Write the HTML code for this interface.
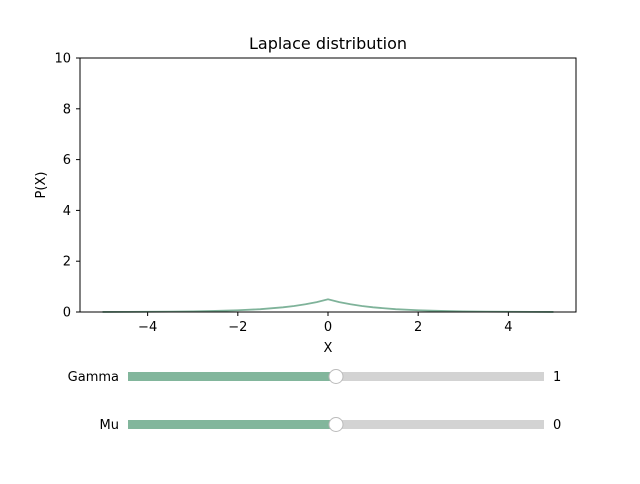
<!DOCTYPE html>
<html><head><meta charset="utf-8"><style>
body{margin:0;background:#fff;font-family:"DejaVu Sans",sans-serif;}
svg text{font-family:"DejaVu Sans",sans-serif;fill:#000;}
</style></head><body>
<svg width="640" height="480">
<rect width="640" height="480" fill="#fff"/>
<text x="328" y="49" font-size="16" text-anchor="middle">Laplace distribution</text>
<g id="axes"></g>
<polyline id="curve" fill="none" stroke="#7fb39a" stroke-width="1.8"/>
<rect x="80" y="58" width="496" height="254" fill="none" stroke="#000" stroke-width="1"/>
<text x="328" y="352" font-size="13" text-anchor="middle">X</text>
<text x="45" y="185" font-size="13" text-anchor="middle" transform="rotate(-90 45 185)">P(X)</text>
<g>
<text x="119" y="381" font-size="13" text-anchor="end">Gamma</text>
<rect x="128" y="372" width="416" height="9" fill="#d3d3d3"/>
<rect x="128" y="372" width="208" height="9" fill="#82b69c"/>
<circle cx="336" cy="376.5" r="7" fill="#fff" stroke="#bbb"/>
<text x="553" y="381" font-size="13">1</text>
</g>
<g>
<text x="119" y="429" font-size="13" text-anchor="end">Mu</text>
<rect x="128" y="420" width="416" height="9" fill="#d3d3d3"/>
<rect x="128" y="420" width="208" height="9" fill="#82b69c"/>
<circle cx="336" cy="424.5" r="7" fill="#fff" stroke="#bbb"/>
<text x="553" y="429" font-size="13">0</text>
</g>
</svg>
<script>
const xValues=[-5,-4.5,-4,-3.5,-3,-2.5,-2,-1.5,-1,-0.75,-0.5,-0.25,0,0.25,0.5,0.75,1,1.5,2,2.5,3,3.5,4,4.5,5];
const yValues=[0.0034,0.0056,0.0092,0.0151,0.0249,0.0410,0.0677,0.1116,0.1839,0.2362,0.3033,0.3894,0.5,0.3894,0.3033,0.2362,0.1839,0.1116,0.0677,0.0410,0.0249,0.0151,0.0092,0.0056,0.0034];
const xTicks=[-4,-2,0,2,4];
const yTicks=[0,2,4,6,8,10];
const xLabels=["\u22124","\u22122","0","2","4"];
const yLabels=["0","2","4","6","8","10"];
const X=v=>80+(v+5.5)/11*496;
const Y=v=>312-v/10*254;
const ns="http://www.w3.org/2000/svg";
const ax=document.getElementById('axes');
xTicks.forEach((t,i)=>{
 const l=document.createElementNS(ns,'line');
 l.setAttribute('x1',X(t));l.setAttribute('x2',X(t));l.setAttribute('y1',312);l.setAttribute('y2',316);l.setAttribute('stroke','#000');
 
 
 ax.appendChild(l);
 const tx=document.createElementNS(ns,'text');
 tx.setAttribute('x',X(t));tx.setAttribute('y',331);tx.setAttribute('font-size','13');tx.setAttribute('text-anchor','middle');
 tx.textContent=xLabels[i];
 
 
 ax.appendChild(tx);
});
yTicks.forEach((t,i)=>{
 const l=document.createElementNS(ns,'line');
 l.setAttribute('x1',76);l.setAttribute('x2',80);l.setAttribute('y1',Y(t));l.setAttribute('y2',Y(t));l.setAttribute('stroke','#000');
 
 
 ax.appendChild(l);
 const tx=document.createElementNS(ns,'text');
 tx.setAttribute('x',71);tx.setAttribute('y',Y(t)+4.5);tx.setAttribute('font-size','13');tx.setAttribute('text-anchor','end');
 tx.textContent=yLabels[i];
 
 
 ax.appendChild(tx);
});
document.getElementById('curve').setAttribute('points',xValues.map((x,i)=>X(x)+','+Y(yValues[i])).join(' '));
</script>
</body></html>
